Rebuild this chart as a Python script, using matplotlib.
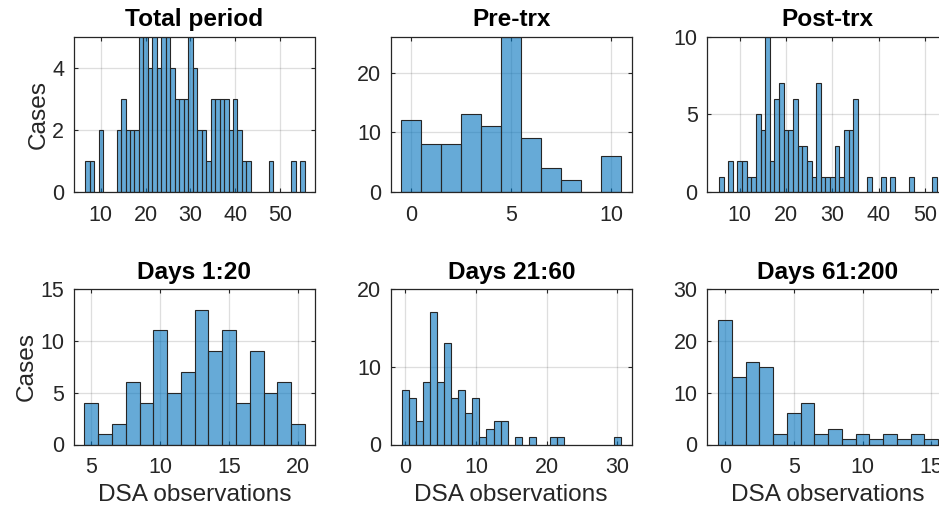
import matplotlib
matplotlib.use("Agg")
import matplotlib.pyplot as plt

plt.rcParams['font.family'] = ['Liberation Sans', 'DejaVu Sans']

# ---- data (bin centres and counts, bin width 1) ----
total_x = [7, 8, 10, 14, 15, 16, 17, 18, 19, 20, 21, 22, 23, 24, 25, 26, 27, 28, 29,
           30, 31, 32, 33, 34, 35, 36, 37, 38, 39, 40, 41, 42, 43, 48, 53, 55]
total_n = [1, 1, 2, 2, 3, 2, 2, 2, 5, 5, 4, 5, 4, 5, 5, 4, 3, 3, 3,
           5, 4, 2, 2, 1, 3, 3, 3, 3, 2, 3, 2, 1, 1, 1, 1, 1]

pre_x = [0, 1, 2, 3, 4, 5, 6, 7, 8, 9, 10]
pre_n = [12, 8, 8, 13, 11, 26, 9, 4, 2, 0, 6]

post_x = [6, 8, 10, 11, 12, 13, 14, 15, 16, 17, 18, 19, 20, 21, 22, 23, 24, 25, 26,
          27, 28, 29, 30, 31, 32, 33, 34, 35, 38, 41, 43, 47, 52]
post_n = [1, 2, 2, 2, 1, 1, 5, 4, 10, 2, 6, 7, 4, 4, 6, 3, 3, 2, 1,
          7, 1, 1, 1, 3, 1, 4, 4, 6, 1, 1, 1, 1, 1]

d1_x = [5, 6, 7, 8, 9, 10, 11, 12, 13, 14, 15, 16, 17, 18, 19, 20]
d1_n = [4, 1, 2, 6, 4, 11, 5, 7, 13, 9, 11, 4, 9, 5, 6, 2]

d2_x = [0, 1, 2, 3, 4, 5, 6, 7, 8, 9, 10, 11, 12, 13, 14, 16, 18, 21, 22, 30]
d2_n = [7, 6, 3, 8, 17, 8, 13, 6, 7, 4, 6, 1, 2, 3, 3, 1, 1, 1, 1, 1]

d3_x = [0, 1, 2, 3, 4, 5, 6, 7, 8, 9, 10, 11, 12, 13, 14, 15]
d3_n = [24, 13, 16, 15, 2, 6, 8, 2, 3, 1, 2, 1, 2, 1, 2, 1]

titles = ["Total period", "Pre-trx", "Post-trx", "Days 1:20", "Days 21:60", "Days 61:200"]
xlabel = "DSA observations"
ylabel = "Cases"

panels = [
    (total_x, total_n, (4, 57.7), (0, 5), [10, 20, 30, 40, 50], [0, 2, 4]),
    (pre_x, pre_n, (-1, 11), (0, 26), [0, 5, 10], [0, 10, 20]),
    (post_x, post_n, (3, 54.9), (0, 10), [10, 20, 30, 40, 50], [0, 5, 10]),
    (d1_x, d1_n, (3.74, 21.2), (0, 15), [5, 10, 15, 20], [0, 5, 10, 15]),
    (d2_x, d2_n, (-2, 32), (0, 20), [0, 10, 20, 30], [0, 10, 20]),
    (d3_x, d3_n, (-1.29, 16.2), (0, 30), [0, 5, 10, 15], [0, 10, 20, 30]),
]

W, H = 939, 514
fig = plt.figure(figsize=(W / 100, H / 100), dpi=100)

col_left = [74, 391, 707.3]
ax_w = 240.5
row_top = [36.7, 289]
ax_h = 155.5

face = (0, 0.447, 0.741, 0.6)
edge = (0.15, 0.15, 0.15)
dark = (0.15, 0.15, 0.15)

for i, (xs, ns, xl, yl, xt, yt) in enumerate(panels):
    r, c = divmod(i, 3)
    left = col_left[c] / W
    bottom = 1 - (row_top[r] + ax_h) / H
    ax = fig.add_axes([left, bottom, ax_w / W, ax_h / H])
    ax.set_axisbelow(True)
    ax.bar(xs, ns, width=1.0, align='center', color=face, edgecolor=edge, linewidth=0.8)
    ax.set_xlim(*xl)
    ax.set_ylim(*yl)
    ax.set_xticks(xt)
    ax.set_yticks(yt)
    ax.grid(True, color=(0.15, 0.15, 0.15), alpha=0.15, linewidth=0.9)
    ax.tick_params(direction='in', top=True, right=True, length=3, width=0.8,
                   colors=dark, labelsize=15.5)
    ax.tick_params(axis='x', pad=9)
    ax.tick_params(axis='y', pad=7)
    for s in ax.spines.values():
        s.set_color(dark)
        s.set_linewidth(0.9)
    ax.set_title(titles[i], fontsize=17.6, fontweight='bold', pad=7.5, color='black')
    if c == 0:
        ax.set_ylabel(ylabel, fontsize=17.6, color=dark, labelpad=2)
    if r == 1:
        ax.set_xlabel(xlabel, fontsize=17.6, color=dark, labelpad=4)

fig.savefig("out.png", dpi=100)
